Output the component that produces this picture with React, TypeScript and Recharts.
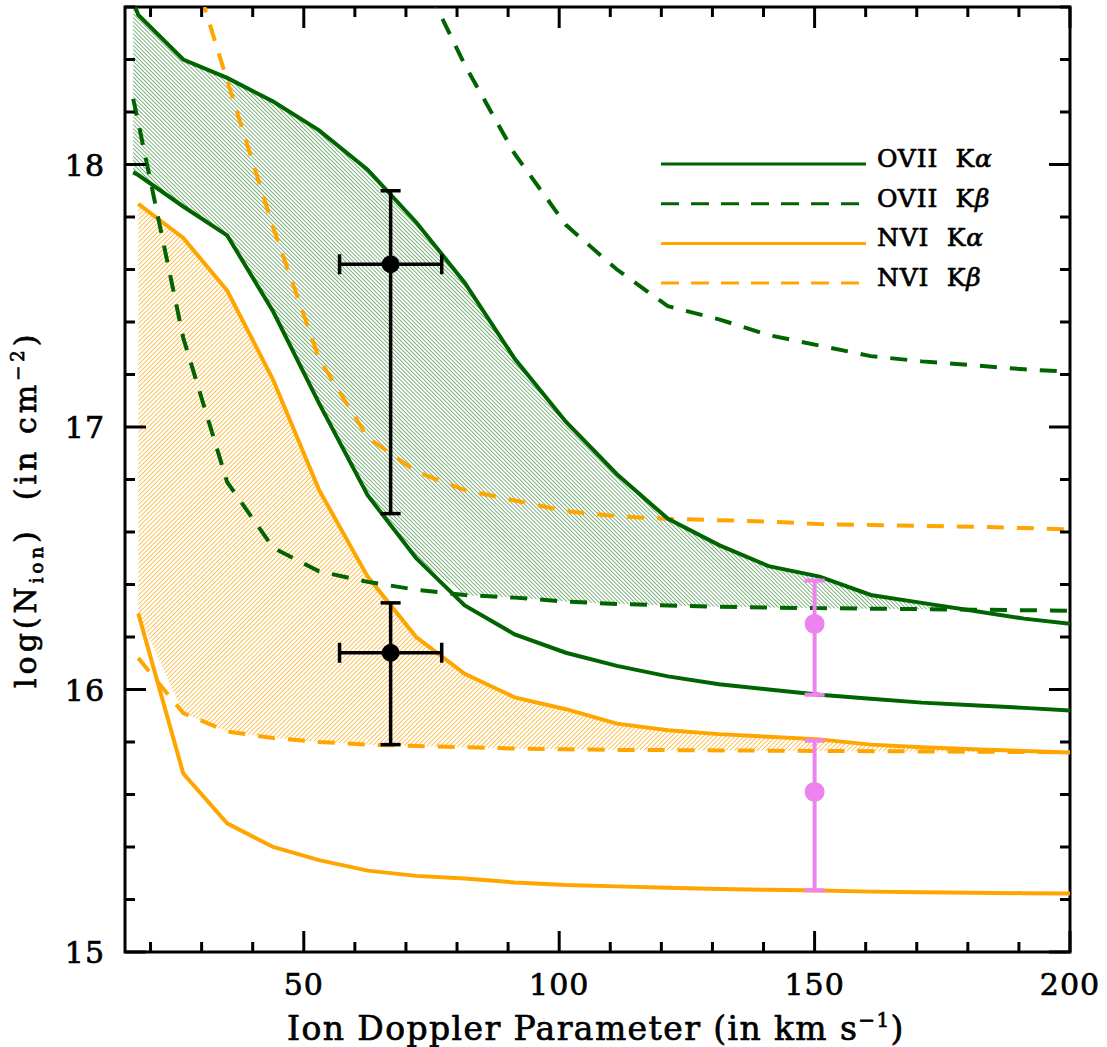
import { Area, ComposedChart, ErrorBar, Line, ReferenceArea, Scatter, XAxis, YAxis } from "recharts"

const FONT = '"DejaVu Serif", serif'
const GREEN = "#006400"
const ORANGE = "#FFA500"
const VIOLET = "#EE82EE"

// Doppler parameter grid, km/s
const dopplerB = [16.6, 17.6, 26.4, 35, 44, 53, 62.5, 72, 81.5, 91.3, 101.3, 111.3, 121.3, 131.3, 141, 151, 161, 171, 181, 191, 200]

// log column density curves on that grid (null = not computed / off the plot)
const oviiKaHigh = [18.62, 18.57, 18.4, 18.33, 18.24, 18.13, 17.98, 17.78, 17.55, 17.26, 17.02, 16.82, 16.65, 16.55, 16.47, 16.43, 16.36, 16.33, 16.3, 16.27, 16.25]
const oviiKaLow = [17.97, 17.96, 17.84, 17.73, 17.44, 17.09, 16.74, 16.5, 16.32, 16.21, 16.14, 16.09, 16.05, 16.02, 16.0, 15.98, 15.965, 15.95, 15.94, 15.93, 15.92]
const oviiKbLow = [18.25, 18.16, 17.34, 16.79, 16.54, 16.45, 16.41, 16.38, 16.36, 16.35, 16.335, 16.326, 16.32, 16.315, 16.312, 16.31, 16.308, 16.306, 16.304, 16.302, 16.3]
const oviiKbHigh = [null, null, null, null, null, null, null, 18.76, 18.38, 18.04, 17.77, 17.6, 17.46, 17.41, 17.35, 17.31, 17.27, 17.25, 17.235, 17.22, 17.21]
const nviKaHigh = [null, 17.85, 17.72, 17.52, 17.18, 16.76, 16.43, 16.2, 16.06, 15.97, 15.925, 15.87, 15.845, 15.83, 15.82, 15.81, 15.79, 15.78, 15.772, 15.766, 15.76]
const nviKaLow = [null, 16.29, 15.68, 15.49, 15.4, 15.35, 15.31, 15.29, 15.28, 15.265, 15.255, 15.25, 15.245, 15.24, 15.237, 15.234, 15.23, 15.228, 15.226, 15.224, 15.223]
const nviKbLow = [null, 16.12, 15.91, 15.84, 15.815, 15.8, 15.79, 15.785, 15.78, 15.775, 15.772, 15.77, 15.769, 15.768, 15.767, 15.766, 15.765, 15.764, 15.763, 15.762, 15.761]
const nviKbHigh = [null, null, 18.86, 18.32, 17.76, 17.26, 16.96, 16.83, 16.76, 16.72, 16.68, 16.66, 16.65, 16.645, 16.64, 16.63, 16.627, 16.623, 16.62, 16.615, 16.61]

// measured points (black) and OVII / NVI estimates at b = 150 (violet)
const detB = [67, 67]
const detN = [17.62, 16.14]
const detBErr = [10, 10]
const detNErr = [[0.95, 0.28], [0.35, 0.19]]
const estB = [150, 150]
const estN = [16.25, 15.61]
const estNErr = [[0.27, 0.165], [0.375, 0.195]]

const bTicks = [20, 30, 40, 50, 60, 70, 80, 90, 100, 110, 120, 130, 140, 150, 160, 170, 180, 190, 200]
const nTicks = [15, 15.2, 15.4, 15.6, 15.8, 16, 16.2, 16.4, 16.6, 16.8, 17, 17.2, 17.4, 17.6, 17.8, 18, 18.2, 18.4, 18.6]

const legendIons = ["OVII", "OVII", "NVI", "NVI"]
const legendLines = ["α", "β", "α", "β"]

const W = 1107
const H = 1047
const TOP = 7
const LEFT = 125
const RIGHT = 1070

// heavier glyphs, closer to the plotting-package look
const textStyle = { fontFamily: FONT, fill: "#000", stroke: "#000", strokeWidth: 0.7, whiteSpace: "pre" as const }

// hatched allowed range: Kα window, cut from below by the Kβ limit past the first samples
function band(high: (number | null)[], low: (number | null)[], limit: (number | null)[], from: number) {
  return dopplerB.map((_, i) => {
    const hi = high[i]
    const lo = low[i]
    if (hi == null || lo == null) return null
    const lim = limit[i]
    const bottom = i >= from && lim != null ? Math.max(lo, lim) : lo
    return hi > bottom ? [bottom, hi] : [bottom, bottom]
  })
}

const oviiBand = band(oviiKaHigh, oviiKaLow, oviiKbLow, 2)
const nviBand = band(nviKaHigh, nviKaLow, nviKbLow, 0)

const rows = dopplerB.map((b, i) => ({
  b,
  oviiKaHigh: oviiKaHigh[i],
  oviiKaLow: oviiKaLow[i],
  oviiKbLow: oviiKbLow[i],
  oviiKbHigh: oviiKbHigh[i],
  nviKaHigh: nviKaHigh[i],
  nviKaLow: nviKaLow[i],
  nviKbLow: nviKbLow[i],
  nviKbHigh: nviKbHigh[i],
  oviiBand: oviiBand[i],
  nviBand: nviBand[i],
}))

const detections = detB.map((b, i) => ({ b, n: detN[i], bErr: detBErr[i], nErr: detNErr[i] }))
const estimates = estB.map((b, i) => ({ b, n: estN[i], nErr: estNErr[i] }))

function BTick(props: any) {
  const { x, y, payload } = props
  const major = payload.value % 50 === 0
  const len = major ? 21 : 10
  return (
    <g>
      <line x1={x} y1={y} x2={x} y2={y - len} stroke="#000" strokeWidth={3} />
      <line x1={x} y1={TOP} x2={x} y2={TOP + len} stroke="#000" strokeWidth={3} />
      {major && (
        <text x={x} y={y + 43} textAnchor="middle" fontSize={30} style={textStyle} letterSpacing={1}>
          {payload.value}
        </text>
      )}
    </g>
  )
}

function NTick(props: any) {
  const { x, y, payload } = props
  const major = Number.isInteger(payload.value)
  const len = major ? 21 : 10
  return (
    <g>
      <line x1={x} y1={y} x2={x + len} y2={y} stroke="#000" strokeWidth={3} />
      <line x1={RIGHT} y1={y} x2={RIGHT - len} y2={y} stroke="#000" strokeWidth={3} />
      {major && (
        <text x={x - 20} y={y + 11} textAnchor="end" fontSize={30} style={textStyle} letterSpacing={1}>
          {payload.value}
        </text>
      )}
    </g>
  )
}

const dot = (color: string, r: number) => (p: any) => <circle cx={p.cx} cy={p.cy} r={r} fill={color} />

function Legend() {
  return (
    <g>
      {legendIons.map((ion, i) => {
        const y = 164 + i * 39.7
        const color = i < 2 ? GREEN : ORANGE
        const dashed = i % 2 === 1
        return (
          <g key={i}>
            <line x1={661} x2={dashed ? 859 : 866} y1={y} y2={y} stroke={color} strokeWidth={3}
              strokeDasharray={dashed ? "18 12" : undefined} />
            <text x={877} y={y + 3} fontSize={25} style={textStyle} letterSpacing={0.8}>
              {ion + "  K"}
              <tspan fontStyle="italic">{legendLines[i]}</tspan>
            </text>
          </g>
        )
      })}
    </g>
  )
}

export default function App() {
  return (
    <div style={{ position: "absolute", left: 0, top: 0, background: "#fff" }}>
      <ComposedChart width={W} height={H} data={rows} margin={{ top: TOP, right: W - RIGHT, bottom: 0, left: 0 }}>
        <defs>
          <pattern id="hatchOvii" width={2.8} height={2.8} patternUnits="userSpaceOnUse" patternTransform="rotate(-45)">
            <line x1={0} y1={0} x2={0} y2={2.8} stroke={GREEN} strokeWidth={1} />
          </pattern>
          <pattern id="hatchNvi" width={3.2} height={3.2} patternUnits="userSpaceOnUse" patternTransform="rotate(45)">
            <line x1={0} y1={0} x2={0} y2={3.2} stroke={ORANGE} strokeWidth={1.3} />
          </pattern>
        </defs>
        <XAxis dataKey="b" type="number" domain={[15, 200]} ticks={bTicks} interval={0} allowDataOverflow
          height={95} tickSize={0} tickMargin={0} axisLine={false} tick={<BTick />} />
        <YAxis type="number" domain={[15, 18.6]} ticks={nTicks} interval={0} allowDataOverflow
          width={LEFT} tickSize={0} tickMargin={0} axisLine={false} tick={<NTick />} />

        <Line dataKey="nviKbHigh" stroke={ORANGE} strokeWidth={4} strokeDasharray="17 13" dot={false} type="linear" isAnimationActive={false} />
        <Area dataKey="oviiBand" stroke="none" fill="url(#hatchOvii)" fillOpacity={1} type="linear" isAnimationActive={false} />
        <Area dataKey="nviBand" stroke="none" fill="url(#hatchNvi)" fillOpacity={1} type="linear" isAnimationActive={false} />

        <Line dataKey="nviKaLow" stroke={ORANGE} strokeWidth={4} dot={false} type="linear" isAnimationActive={false} />
        <Line dataKey="nviKaHigh" stroke={ORANGE} strokeWidth={4} dot={false} type="linear" isAnimationActive={false} />
        <Line dataKey="nviKbLow" stroke={ORANGE} strokeWidth={4} strokeDasharray="17 13" dot={false} type="linear" isAnimationActive={false} />
        <Line dataKey="oviiKbLow" stroke={GREEN} strokeWidth={4} strokeDasharray="17 13" dot={false} type="linear" isAnimationActive={false} />
        <Line dataKey="oviiKbHigh" stroke={GREEN} strokeWidth={4} strokeDasharray="17 13" dot={false} type="linear" isAnimationActive={false} />
        <Line dataKey="oviiKaLow" stroke={GREEN} strokeWidth={4} dot={false} type="linear" isAnimationActive={false} />
        <Line dataKey="oviiKaHigh" stroke={GREEN} strokeWidth={4} dot={false} type="linear" isAnimationActive={false} />

        <Scatter data={estimates} dataKey="n" shape={dot(VIOLET, 10)} isAnimationActive={false}>
          <ErrorBar dataKey="nErr" direction="y" width={10} stroke={VIOLET} strokeWidth={4} />
        </Scatter>
        <Scatter data={detections} dataKey="n" shape={dot("#000", 9)} isAnimationActive={false}>
          <ErrorBar dataKey="nErr" direction="y" width={10} stroke="#000" strokeWidth={3.5} />
          <ErrorBar dataKey="bErr" direction="x" width={10} stroke="#000" strokeWidth={3.5} />
        </Scatter>

        <ReferenceArea x1={15} x2={200} y1={15} y2={18.6} fill="none" stroke="#000" strokeWidth={3} ifOverflow="visible" />

        <Legend />

        <text x={596} y={1040} textAnchor="middle" fontSize={33} letterSpacing={1.4} style={textStyle}>
          Ion Doppler Parameter (in km s<tspan dy={-13} fontSize={20}>−1</tspan><tspan dy={13}>)</tspan>
        </text>
        <text transform="translate(36,688) rotate(-90)" fontSize={30} letterSpacing={4} style={textStyle}>
          log(N<tspan dy={7} fontSize={18}>ion</tspan><tspan dy={-7}>{")  (in cm"}</tspan><tspan dy={-12} fontSize={18}>−2</tspan><tspan dy={12}>)</tspan>
        </text>
      </ComposedChart>
    </div>
  )
}
